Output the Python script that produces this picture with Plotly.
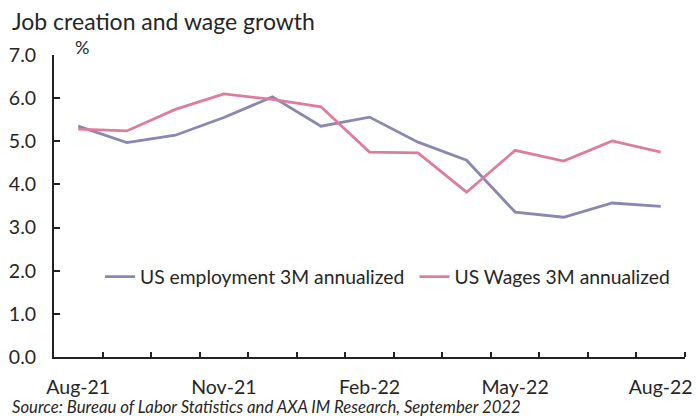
import plotly.graph_objects as go

months = ["Aug-21", "Sep-21", "Oct-21", "Nov-21", "Dec-21", "Jan-22", "Feb-22",
          "Mar-22", "Apr-22", "May-22", "Jun-22", "Jul-22", "Aug-22"]
employment = [5.35, 4.97, 5.14, 5.55, 6.03, 5.35, 5.56, 4.98, 4.56, 3.36, 3.24, 3.57, 3.49]
wages = [5.28, 5.24, 5.74, 6.10, 5.97, 5.80, 4.75, 4.73, 3.82, 4.79, 4.54, 5.01, 4.75]
label_months = ["Aug-21", "Nov-21", "Feb-22", "May-22", "Aug-22"]
y_ticks = [0, 1, 2, 3, 4, 5, 6, 7]

xs = list(range(len(months)))
label_pos = [months.index(m) for m in label_months]
boundaries = [i + 0.5 for i in xs]

PURPLE = "#8a87b3"
PINK = "#de7c9c"
FONT = "Lato, 'Open Sans', sans-serif"

W, H = 698, 416
pl, pr, pt, pb = 54, 6, 55, 59
pw, ph = W - pl - pr, H - pt - pb

fig = go.Figure()
fig.add_trace(go.Scatter(x=xs, y=employment, mode="lines", name="US employment 3M annualized",
                         line=dict(color=PURPLE, width=2.8), legend="legend"))
fig.add_trace(go.Scatter(x=xs, y=wages, mode="lines", name="US Wages 3M annualized",
                         line=dict(color=PINK, width=2.8), legend="legend2"))


def px(x, y):
    return (x - pl) / pw, (H - pb - y) / ph


ann = []
for text, x, y, size in [
    ("Job creation and wage growth", 10, 21, 23),
    ("%", 73, 47, 18),
    ("<i>Source: Bureau of Labor Statistics and AXA IM Research, September 2022</i>", 10, 407, 16.7),
]:
    ax, ay = px(x, y)
    ann.append(dict(text=text, x=ax, y=ay, xref="paper", yref="paper", showarrow=False,
                    xanchor="left", yanchor="middle", font=dict(size=size)))

l1x, ly = px(100.5, 277)
l2x, _ = px(418.5, 277)
leg_common = dict(orientation="h", y=ly, xanchor="left", yanchor="middle",
                  bgcolor="rgba(0,0,0,0)", font=dict(size=19.3, color="#262626"),
                  itemwidth=30, tracegroupgap=0)

fig.update_layout(
    width=W, height=H,
    margin=dict(l=pl, r=pr, t=pt, b=pb),
    paper_bgcolor="white", plot_bgcolor="white",
    font=dict(family=FONT, size=19, color="#262626"),
    showlegend=True,
    legend=dict(x=l1x, **leg_common),
    legend2=dict(x=l2x, **leg_common),
    xaxis=dict(range=[-0.5, len(months) - 0.5], tickmode="array", tickvals=label_pos,
               ticktext=label_months, ticks="", showgrid=False, zeroline=False,
               showline=True, linecolor="#222", linewidth=2, ticklabelstandoff=12,
               tickfont=dict(size=19.5), ticklabeloverflow="allow",
               minor=dict(tickvals=boundaries, ticks="inside", ticklen=5, tickcolor="#222",
                          tickwidth=1.5, showgrid=False)),
    yaxis=dict(range=[0, 7], tickvals=y_ticks, tickformat=".1f", ticks="inside", ticklen=6,
               tickcolor="#222", tickwidth=1.5, showgrid=False, zeroline=False,
               showline=True, linecolor="#222", linewidth=2, ticklabelstandoff=12,
               tickfont=dict(size=19.5)),
    annotations=ann,
)

fig.write_html("out.html", config={"displayModeBar": False},
               post_script="document.body.style.margin='0';document.body.style.overflow='hidden';")
